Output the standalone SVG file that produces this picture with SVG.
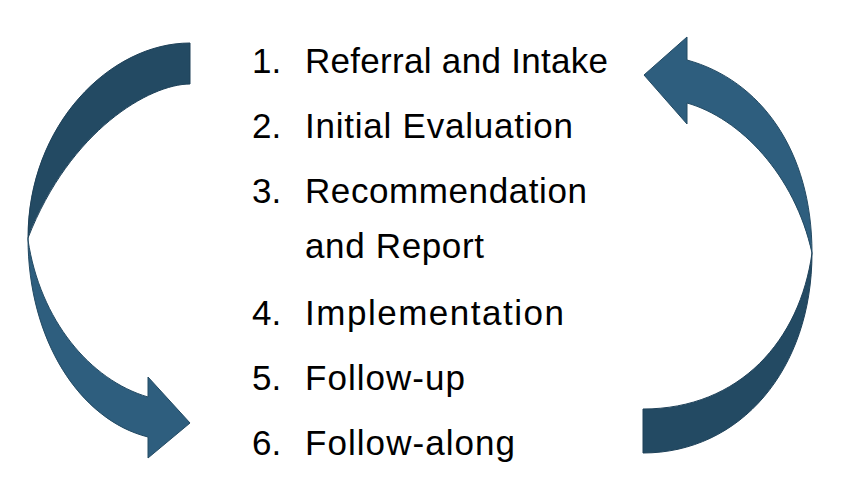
<svg xmlns="http://www.w3.org/2000/svg" width="854" height="480" viewBox="0 0 854 480">
<style>
.bg{fill:#ffffff}
.back{fill:#234A63;stroke:#1E4159;stroke-width:1}
.front{fill:#2E5E7E;stroke:#234A63;stroke-width:1}
text{font-family:"Liberation Sans",Arial,sans-serif;font-size:35px;fill:#000000}
</style>
<rect class="bg" x="0" y="0" width="854" height="480"/>
<g id="connectors">
  <g id="arrow-left">
    <path class="back" d="M190,43 C110,43 28,125 28,238 C70,130 150,84 190,84 Z"/>
    <path class="front" d="M28,238 C28,340 80,420 148,437 L148,458 L190,423 L148,377 L148,397 C90,380 40,320 28,240 Z"/>
  </g>
  <g id="arrow-right">
    <path class="back" d="M812,253 C812,370 740,453 643,453 L643,409 C740,409 800,340 812,253 Z"/>
    <path class="front" d="M812,253 C812,150 760,80 687,60 L687,37 L644,75 L687,124 L687,103 C740,118 795,175 812,253 Z"/>
  </g>
</g>
<g id="step1"><text x="252" y="73">1.</text><text x="305" y="73" textLength="303">Referral and Intake</text></g>
<g id="step2"><text x="252" y="138">2.</text><text x="305" y="138" textLength="268">Initial Evaluation</text></g>
<g id="step3"><text x="252" y="203">3.</text><text x="305" y="203" textLength="282">Recommendation</text><text x="305" y="258" textLength="179">and Report</text></g>
<g id="step4"><text x="252" y="325">4.</text><text x="305" y="325" textLength="259">Implementation</text></g>
<g id="step5"><text x="252" y="390">5.</text><text x="305" y="390" textLength="160">Follow-up</text></g>
<g id="step6"><text x="252" y="455">6.</text><text x="305" y="455" textLength="210">Follow-along</text></g>
</svg>
